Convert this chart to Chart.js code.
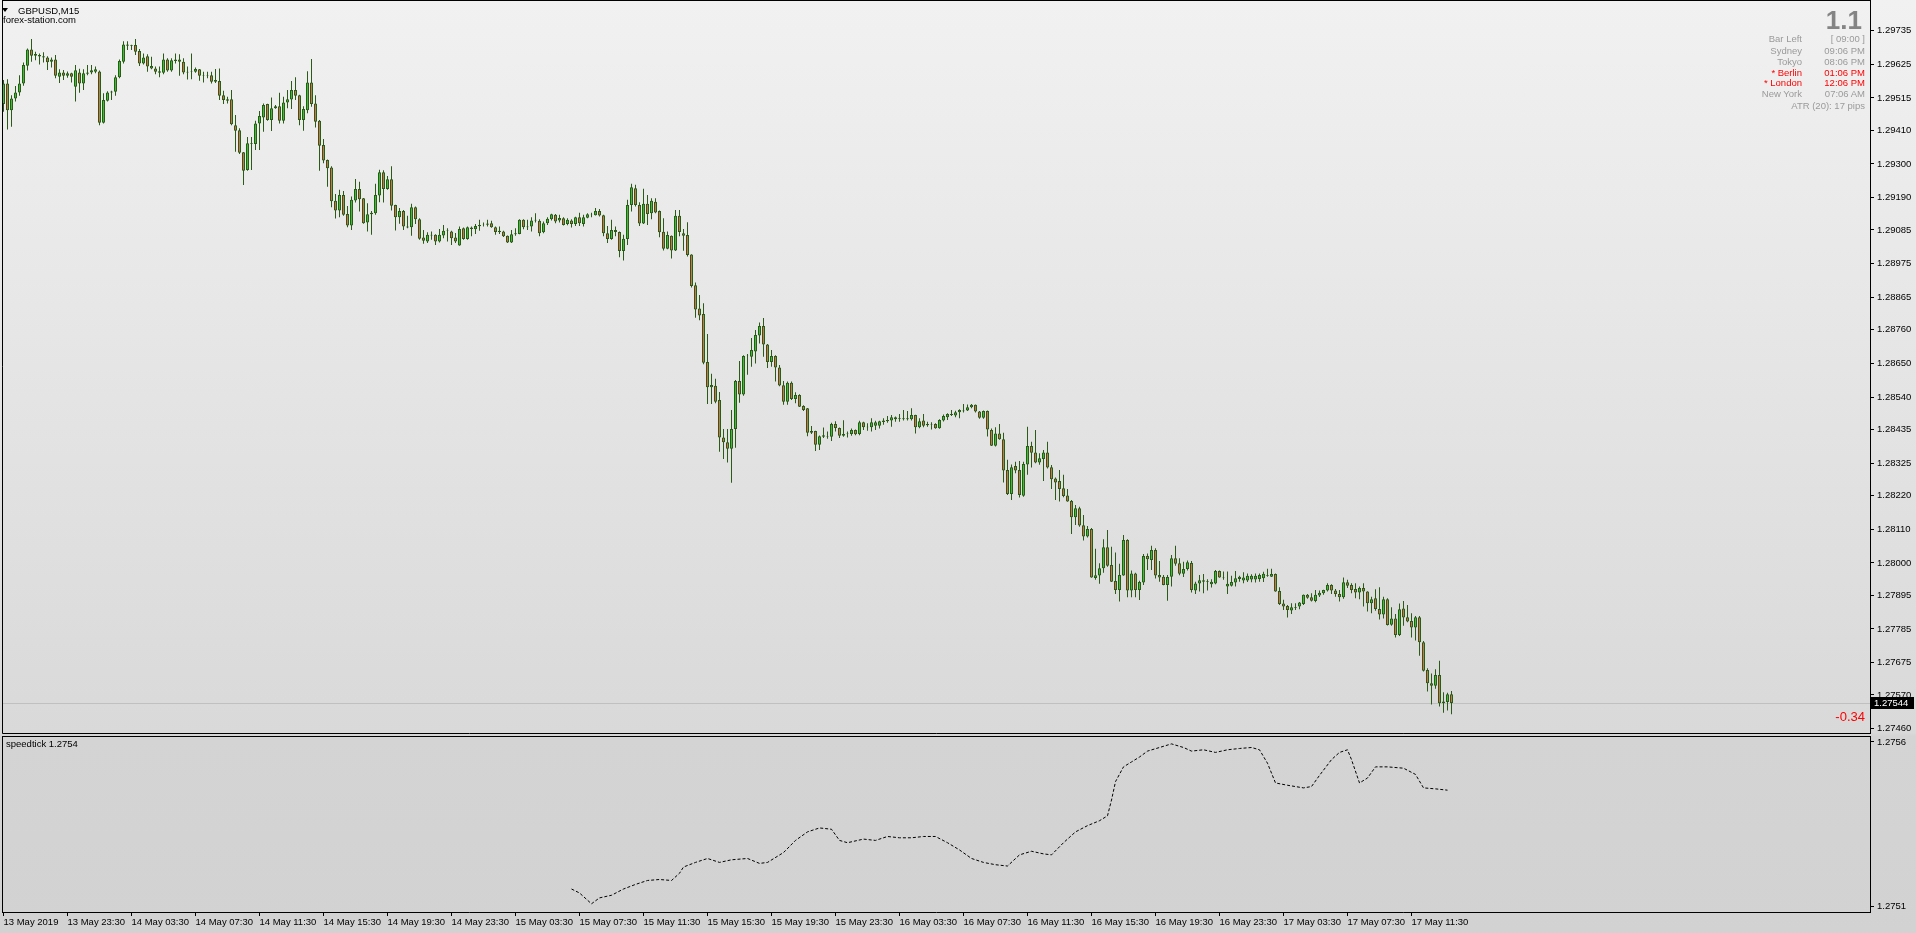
<!DOCTYPE html>
<html lang="en">
<head>
<meta charset="UTF-8" />
<title>GBPUSD,M15</title>
<script src="https://cdn.jsdelivr.net/npm/chart.js"></script>
<style>
  html, body { margin: 0; padding: 0; }
  body {
    width: 1916px; height: 933px; overflow: hidden; position: relative;
    background: linear-gradient(to bottom, #f1f1f1 0px, #d9d9d9 733px, #d4d4d4 736px, #d2d2d2 933px);
    font-family: "Liberation Sans", Arial, sans-serif; font-size: 9.5px; color: #000;
  }
  canvas { position: absolute; left: 0; }
  .t { position: absolute; white-space: nowrap; line-height: 11px; }
  .r { text-align: right; }
  .gray { color: #9a9a9a; }
  .red { color: #ff0000; }
  #tri { position: absolute; left: 2px; top: 8px; width: 0; height: 0;
    border-left: 3.5px solid transparent; border-right: 3.5px solid transparent; border-top: 4px solid #000; }
</style>
</head>
<body>
<canvas id="mainChart" width="1916" height="734" style="top:0"></canvas>
<canvas id="speedChart" width="1916" height="199" style="top:734px"></canvas>

<div id="tri"></div>
<div class="t" style="left:18px; top:4.5px">GBPUSD,M15</div>
<div class="t" style="left:3px; top:13.5px">forex-station.com</div>

<div class="t r gray" style="right:54px; top:6px; font-size:26px; line-height:28px; font-weight:bold; color:#848484">1.1</div>
<div id="info"></div>

<div class="t r red" style="right:51px; top:709px; font-size:13px; line-height:15px">-0.34</div>
<div class="t" style="left:6px; top:737.5px">speedtick 1.2754</div>

<script>
// candles, one per M15 bar, bar 0 = 13 May 19:30
const open = [
1.29495,1.29562,1.29475,1.29513,1.29533,1.29562,1.29620,1.29673,1.29652,1.29655,
1.29651,1.29647,1.29633,1.29640,1.29584,1.29598,1.29587,1.29595,1.29551,1.29598,
1.29562,1.29594,1.29598,1.29600,1.29601,1.29434,1.29506,1.29533,1.29535,1.29582,
1.29633,1.29689,1.29685,1.29687,1.29668,1.29627,1.29651,1.29611,1.29611,1.29597,
1.29597,1.29640,1.29604,1.29635,1.29640,1.29633,1.29598,1.29600,1.29600,1.29608,
1.29587,1.29589,1.29589,1.29568,1.29570,1.29524,1.29506,1.29511,1.29426,1.29410,
1.29338,1.29280,1.29367,1.29365,1.29432,1.29451,1.29495,1.29443,1.29481,1.29488,
1.29441,1.29500,1.29510,1.29541,1.29524,1.29443,1.29475,1.29565,1.29497,1.29441,
1.29362,1.29313,1.29288,1.29180,1.29148,1.29199,1.29137,1.29099,1.29181,1.29218,
1.29188,1.29109,1.29136,1.29139,1.29197,1.29273,1.29218,1.29250,1.29166,1.29126,
1.29147,1.29096,1.29094,1.29159,1.29120,1.29060,1.29047,1.29069,1.29069,1.29047,
1.29067,1.29082,1.29080,1.29060,1.29034,1.29090,1.29055,1.29093,1.29087,1.29097,
1.29101,1.29102,1.29107,1.29094,1.29078,1.29080,1.29066,1.29044,1.29071,1.29072,
1.29118,1.29094,1.29096,1.29116,1.29115,1.29077,1.29107,1.29120,1.29134,1.29116,
1.29123,1.29104,1.29116,1.29104,1.29126,1.29104,1.29125,1.29136,1.29133,1.29147,
1.29133,1.29074,1.29055,1.29085,1.29078,1.29016,1.29055,1.29166,1.29221,1.29166,
1.29106,1.29170,1.29139,1.29177,1.29147,1.29079,1.29024,1.29066,1.29018,1.29131,
1.29074,1.29068,1.29005,1.28905,1.28829,1.28811,1.28655,1.28572,1.28577,1.28531,
1.28409,1.28393,1.28372,1.28436,1.28593,1.28549,1.28674,1.28672,1.28689,1.28741,
1.28772,1.28712,1.28655,1.28674,1.28637,1.28579,1.28525,1.28587,1.28534,1.28547,
1.28511,1.28504,1.28424,1.28430,1.28385,1.28411,1.28413,1.28411,1.28453,1.28440,
1.28414,1.28420,1.28420,1.28433,1.28420,1.28458,1.28442,1.28442,1.28447,1.28447,
1.28459,1.28462,1.28464,1.28475,1.28469,1.28471,1.28468,1.28468,1.28482,1.28442,
1.28464,1.28449,1.28452,1.28453,1.28439,1.28464,1.28475,1.28485,1.28480,1.28491,
1.28494,1.28497,1.28507,1.28515,1.28493,1.28473,1.28495,1.28433,1.28382,1.28422,
1.28403,1.28303,1.28225,1.28316,1.28303,1.28219,1.28321,1.28381,1.28360,1.28327,
1.28339,1.28360,1.28312,1.28275,1.28267,1.28243,1.28220,1.28202,1.28149,1.28178,
1.28123,1.28086,1.28111,1.27951,1.27959,1.27983,1.28051,1.27993,1.27941,1.27912,
1.27959,1.28075,1.27910,1.27966,1.27912,1.27936,1.28023,1.28010,1.28042,1.27961,
1.27955,1.27928,1.27955,1.28015,1.27999,1.27965,1.27980,1.28000,1.27910,1.27933,
1.27944,1.27939,1.27931,1.27933,1.27974,1.27953,1.27923,1.27926,1.27936,1.27948,
1.27943,1.27943,1.27946,1.27946,1.27948,1.27950,1.27961,1.27955,1.27964,1.27909,
1.27868,1.27860,1.27845,1.27856,1.27858,1.27866,1.27896,1.27888,1.27876,1.27894,
1.27901,1.27910,1.27928,1.27910,1.27899,1.27888,1.27937,1.27928,1.27915,1.27904,
1.27918,1.27907,1.27869,1.27885,1.27850,1.27832,1.27882,1.27799,1.27819,1.27765,
1.27852,1.27823,1.27811,1.27790,1.27823,1.27742,1.27651,1.27608,1.27600,1.27635,
1.27543,1.27547,1.27572];

const high = [
1.29573,1.29576,1.29524,1.29554,1.29589,1.29630,1.29676,1.29707,1.29665,1.29660,
1.29664,1.29651,1.29647,1.29655,1.29608,1.29606,1.29601,1.29597,1.29622,1.29610,
1.29608,1.29622,1.29622,1.29617,1.29604,1.29530,1.29537,1.29538,1.29589,1.29640,
1.29700,1.29700,1.29688,1.29707,1.29674,1.29660,1.29657,1.29649,1.29617,1.29617,
1.29660,1.29644,1.29644,1.29660,1.29657,1.29644,1.29617,1.29660,1.29614,1.29609,
1.29600,1.29600,1.29600,1.29609,1.29611,1.29538,1.29519,1.29541,1.29459,1.29416,
1.29339,1.29388,1.29388,1.29441,1.29472,1.29497,1.29496,1.29516,1.29492,1.29532,
1.29519,1.29541,1.29570,1.29582,1.29525,1.29488,1.29602,1.29642,1.29524,1.29443,
1.29381,1.29314,1.29292,1.29202,1.29216,1.29212,1.29163,1.29194,1.29251,1.29242,
1.29189,1.29172,1.29147,1.29235,1.29281,1.29279,1.29261,1.29292,1.29167,1.29156,
1.29150,1.29131,1.29170,1.29161,1.29123,1.29085,1.29077,1.29080,1.29071,1.29088,
1.29101,1.29090,1.29082,1.29075,1.29096,1.29093,1.29096,1.29096,1.29104,1.29118,
1.29109,1.29118,1.29115,1.29096,1.29096,1.29082,1.29067,1.29085,1.29090,1.29120,
1.29120,1.29118,1.29126,1.29139,1.29120,1.29112,1.29126,1.29138,1.29137,1.29134,
1.29126,1.29123,1.29120,1.29128,1.29141,1.29134,1.29139,1.29141,1.29156,1.29153,
1.29134,1.29098,1.29118,1.29096,1.29080,1.29069,1.29183,1.29235,1.29232,1.29175,
1.29219,1.29199,1.29188,1.29188,1.29148,1.29123,1.29080,1.29067,1.29150,1.29150,
1.29088,1.29110,1.29006,1.28914,1.28873,1.28846,1.28746,1.28616,1.28600,1.28557,
1.28436,1.28436,1.28498,1.28596,1.28658,1.28677,1.28681,1.28733,1.28759,1.28783,
1.28798,1.28713,1.28694,1.28677,1.28645,1.28593,1.28591,1.28591,1.28556,1.28550,
1.28514,1.28505,1.28446,1.28431,1.28415,1.28441,1.28428,1.28457,1.28462,1.28441,
1.28465,1.28428,1.28438,1.28435,1.28463,1.28460,1.28455,1.28471,1.28463,1.28463,
1.28471,1.28479,1.28482,1.28477,1.28485,1.28498,1.28495,1.28504,1.28483,1.28471,
1.28485,1.28460,1.28458,1.28455,1.28468,1.28484,1.28488,1.28498,1.28496,1.28501,
1.28518,1.28516,1.28518,1.28516,1.28495,1.28497,1.28497,1.28438,1.28442,1.28453,
1.28424,1.28336,1.28321,1.28330,1.28332,1.28330,1.28444,1.28395,1.28433,1.28357,
1.28368,1.28395,1.28319,1.28278,1.28303,1.28287,1.28241,1.28205,1.28189,1.28183,
1.28156,1.28120,1.28114,1.28046,1.27999,1.28077,1.28107,1.28053,1.28034,1.27997,
1.28091,1.28077,1.27975,1.27968,1.27942,1.28029,1.28031,1.28056,1.28048,1.28006,
1.27961,1.27961,1.28026,1.28056,1.28015,1.28004,1.28008,1.28006,1.27939,1.27961,
1.27964,1.27947,1.27947,1.27977,1.27975,1.27972,1.27972,1.27958,1.27974,1.27958,
1.27970,1.27966,1.27963,1.27966,1.27966,1.27971,1.27981,1.27981,1.27966,1.27921,
1.27880,1.27863,1.27869,1.27869,1.27873,1.27897,1.27899,1.27901,1.27912,1.27910,
1.27913,1.27934,1.27931,1.27915,1.27912,1.27953,1.27945,1.27934,1.27934,1.27923,
1.27934,1.27908,1.27890,1.27914,1.27921,1.27890,1.27885,1.27856,1.27834,1.27868,
1.27876,1.27863,1.27836,1.27827,1.27827,1.27746,1.27657,1.27640,1.27654,1.27681,
1.27579,1.27577,1.27583];

const low = [
1.29470,1.29412,1.29421,1.29503,1.29522,1.29555,1.29604,1.29633,1.29638,1.29624,
1.29630,1.29606,1.29614,1.29579,1.29564,1.29573,1.29581,1.29565,1.29503,1.29532,
1.29541,1.29589,1.29592,1.29595,1.29426,1.29432,1.29503,1.29508,1.29522,1.29579,
1.29627,1.29671,1.29671,1.29655,1.29619,1.29624,1.29600,1.29608,1.29592,1.29582,
1.29592,1.29600,1.29600,1.29627,1.29587,1.29592,1.29575,1.29576,1.29597,1.29571,
1.29565,1.29579,1.29562,1.29564,1.29508,1.29495,1.29497,1.29426,1.29340,1.29332,
1.29231,1.29278,1.29280,1.29345,1.29345,1.29405,1.29441,1.29407,1.29480,1.29432,
1.29432,1.29481,1.29479,1.29508,1.29426,1.29408,1.29465,1.29486,1.29419,1.29278,
1.29302,1.29226,1.29159,1.29122,1.29126,1.29131,1.29094,1.29085,1.29174,1.29145,
1.29105,1.29080,1.29069,1.29134,1.29175,1.29174,1.29216,1.29148,1.29083,1.29105,
1.29085,1.29090,1.29066,1.29104,1.29053,1.29040,1.29042,1.29053,1.29036,1.29044,
1.29058,1.29047,1.29036,1.29042,1.29033,1.29053,1.29053,1.29064,1.29072,1.29082,
1.29096,1.29096,1.29092,1.29069,1.29072,1.29062,1.29042,1.29042,1.29066,1.29071,
1.29087,1.29085,1.29080,1.29109,1.29064,1.29074,1.29101,1.29116,1.29107,1.29109,
1.29099,1.29100,1.29093,1.29098,1.29098,1.29096,1.29123,1.29126,1.29132,1.29129,
1.29064,1.29042,1.29053,1.29064,1.28996,1.28985,1.29036,1.29145,1.29161,1.29098,
1.29104,1.29101,1.29120,1.29139,1.29061,1.29018,1.29022,1.28992,1.29016,1.29064,
1.29017,1.28998,1.28897,1.28799,1.28791,1.28647,1.28518,1.28518,1.28520,1.28362,
1.28339,1.28327,1.28261,1.28375,1.28522,1.28545,1.28613,1.28639,1.28650,1.28715,
1.28672,1.28635,1.28639,1.28591,1.28576,1.28515,1.28515,1.28531,1.28520,1.28508,
1.28495,1.28413,1.28420,1.28365,1.28368,1.28407,1.28405,1.28397,1.28428,1.28407,
1.28411,1.28409,1.28414,1.28416,1.28416,1.28433,1.28431,1.28428,1.28433,1.28438,
1.28450,1.28457,1.28444,1.28460,1.28460,1.28464,1.28464,1.28464,1.28422,1.28439,
1.28442,1.28444,1.28435,1.28437,1.28437,1.28461,1.28466,1.28479,1.28475,1.28471,
1.28490,1.28495,1.28504,1.28490,1.28470,1.28470,1.28412,1.28381,1.28379,1.28401,
1.28262,1.28221,1.28205,1.28292,1.28213,1.28216,1.28287,1.28311,1.28325,1.28320,
1.28267,1.28308,1.28241,1.28205,1.28200,1.28214,1.28199,1.28094,1.28124,1.28118,
1.28073,1.28083,1.27952,1.27945,1.27932,1.27968,1.27988,1.27938,1.27899,1.27874,
1.27958,1.27888,1.27888,1.27888,1.27879,1.27928,1.27977,1.27977,1.27949,1.27939,
1.27927,1.27877,1.27923,1.27991,1.27960,1.27954,1.27975,1.27904,1.27899,1.27907,
1.27901,1.27910,1.27920,1.27931,1.27952,1.27945,1.27899,1.27923,1.27923,1.27939,
1.27934,1.27938,1.27937,1.27936,1.27939,1.27938,1.27955,1.27954,1.27906,1.27863,
1.27847,1.27822,1.27834,1.27847,1.27849,1.27863,1.27883,1.27874,1.27872,1.27889,
1.27896,1.27907,1.27899,1.27890,1.27874,1.27883,1.27918,1.27901,1.27885,1.27882,
1.27858,1.27842,1.27836,1.27844,1.27816,1.27819,1.27796,1.27795,1.27757,1.27762,
1.27795,1.27807,1.27757,1.27747,1.27698,1.27646,1.27581,1.27539,1.27590,1.27532,
1.27512,1.27519,1.27507];

const close = [
1.29562,1.29475,1.29513,1.29533,1.29562,1.29622,1.29673,1.29652,1.29658,1.29650,
1.29647,1.29631,1.29640,1.29587,1.29598,1.29587,1.29595,1.29584,1.29605,1.29562,
1.29595,1.29598,1.29605,1.29608,1.29434,1.29508,1.29533,1.29536,1.29582,1.29635,
1.29689,1.29685,1.29687,1.29665,1.29627,1.29647,1.29617,1.29619,1.29600,1.29602,
1.29640,1.29604,1.29638,1.29640,1.29633,1.29598,1.29600,1.29602,1.29609,1.29587,
1.29589,1.29587,1.29568,1.29573,1.29522,1.29508,1.29511,1.29429,1.29408,1.29336,
1.29278,1.29367,1.29365,1.29432,1.29456,1.29492,1.29443,1.29481,1.29488,1.29441,
1.29500,1.29511,1.29541,1.29522,1.29443,1.29479,1.29565,1.29495,1.29437,1.29359,
1.29311,1.29286,1.29178,1.29148,1.29199,1.29134,1.29099,1.29183,1.29218,1.29185,
1.29107,1.29136,1.29141,1.29199,1.29273,1.29218,1.29250,1.29164,1.29126,1.29147,
1.29096,1.29093,1.29159,1.29120,1.29056,1.29050,1.29069,1.29067,1.29047,1.29069,
1.29082,1.29084,1.29058,1.29047,1.29088,1.29055,1.29094,1.29088,1.29098,1.29101,
1.29102,1.29106,1.29094,1.29078,1.29082,1.29064,1.29044,1.29071,1.29074,1.29118,
1.29094,1.29096,1.29116,1.29118,1.29074,1.29107,1.29121,1.29136,1.29112,1.29124,
1.29101,1.29118,1.29104,1.29126,1.29107,1.29126,1.29136,1.29137,1.29147,1.29132,
1.29074,1.29055,1.29085,1.29078,1.29016,1.29056,1.29166,1.29224,1.29166,1.29106,
1.29170,1.29137,1.29180,1.29142,1.29077,1.29024,1.29068,1.29018,1.29131,1.29078,
1.29066,1.29003,1.28902,1.28826,1.28806,1.28652,1.28572,1.28580,1.28525,1.28409,
1.28393,1.28372,1.28436,1.28593,1.28549,1.28674,1.28675,1.28694,1.28743,1.28772,
1.28712,1.28655,1.28674,1.28637,1.28578,1.28525,1.28587,1.28534,1.28547,1.28509,
1.28498,1.28424,1.28430,1.28385,1.28413,1.28416,1.28411,1.28453,1.28440,1.28414,
1.28420,1.28422,1.28433,1.28419,1.28458,1.28442,1.28444,1.28458,1.28458,1.28462,
1.28464,1.28466,1.28475,1.28468,1.28471,1.28468,1.28471,1.28482,1.28442,1.28462,
1.28447,1.28453,1.28450,1.28439,1.28466,1.28479,1.28485,1.28482,1.28491,1.28498,
1.28497,1.28507,1.28515,1.28493,1.28473,1.28495,1.28435,1.28382,1.28422,1.28403,
1.28301,1.28225,1.28312,1.28301,1.28221,1.28322,1.28381,1.28359,1.28327,1.28341,
1.28360,1.28311,1.28273,1.28262,1.28241,1.28218,1.28200,1.28149,1.28178,1.28122,
1.28086,1.28111,1.27953,1.27960,1.27983,1.28051,1.27991,1.27939,1.27912,1.27961,
1.28075,1.27910,1.27966,1.27912,1.27938,1.28023,1.28012,1.28042,1.27959,1.27953,
1.27928,1.27954,1.28015,1.27997,1.27965,1.27980,1.28002,1.27912,1.27933,1.27944,
1.27939,1.27941,1.27939,1.27974,1.27953,1.27951,1.27932,1.27938,1.27950,1.27955,
1.27953,1.27958,1.27958,1.27958,1.27961,1.27965,1.27958,1.27964,1.27907,1.27866,
1.27858,1.27847,1.27856,1.27853,1.27871,1.27896,1.27887,1.27877,1.27896,1.27903,
1.27912,1.27928,1.27910,1.27899,1.27888,1.27937,1.27926,1.27912,1.27904,1.27918,
1.27907,1.27869,1.27882,1.27850,1.27832,1.27882,1.27798,1.27819,1.27765,1.27849,
1.27822,1.27809,1.27790,1.27823,1.27742,1.27649,1.27608,1.27600,1.27635,1.27543,
1.27549,1.27572,1.27544];

// speedtick line (bar index, value)
const speedBars = [142,144,146,147,149,152,155,158,161,164,167,169,170,173,176,179,182,186,189,191,
  195,198,201,204,207,209,211,215,218,221,224,227,230,233,236,239,242,245,248,251,
  254,257,260,262,265,268,271,274,276,277,278,280,282,284,286,289,292,295,297,300,
  303,306,309,312,314,316,318,321,325,327,329,332,334,336,337,339,341,343,346,350,
  353,355,358,361];
const speedValues = [1.275152,1.275140,1.275118,1.275107,1.275125,1.275133,1.275152,1.275166,1.275178,1.275181,
  1.275178,1.275200,1.275219,1.275233,1.275245,1.275233,1.275241,1.275245,1.275230,1.275233,
  1.275263,1.275300,1.275326,1.275338,1.275334,1.275300,1.275293,1.275304,1.275300,1.275312,
  1.275308,1.275308,1.275312,1.275312,1.275293,1.275271,1.275245,1.275233,1.275226,1.275222,
  1.275256,1.275267,1.275259,1.275256,1.275293,1.275326,1.275345,1.275360,1.275375,1.275423,
  1.275479,1.275524,1.275539,1.275554,1.275572,1.275583,1.275594,1.275583,1.275572,1.275576,
  1.275568,1.275576,1.275580,1.275583,1.275576,1.275535,1.275475,1.275468,1.275460,1.275464,
  1.275498,1.275546,1.275568,1.275576,1.275546,1.275475,1.275490,1.275524,1.275524,1.275520,
  1.275501,1.275460,1.275457,1.275453];

const priceTicks = [1.29735,1.29625,1.29515,1.29410,1.29300,1.29190,1.29085,1.28975,1.28865,1.28760,
  1.28650,1.28540,1.28435,1.28325,1.28220,1.28110,1.28000,1.27895,1.27785,1.27675,1.27570,1.27460];
const speedTicks = [1.2756, 1.2751];
const timeTickBars = [0,16,32,48,64,80,96,112,128,144,160,176,192,208,224,240,256,272,288,304,320,336,352];
const timeTickLabels = ["13 May 2019","13 May 23:30","14 May 03:30","14 May 07:30","14 May 11:30","14 May 15:30",
  "14 May 19:30","14 May 23:30","15 May 03:30","15 May 07:30","15 May 11:30","15 May 15:30","15 May 19:30",
  "15 May 23:30","16 May 03:30","16 May 07:30","16 May 11:30","16 May 15:30","16 May 19:30","16 May 23:30",
  "17 May 03:30","17 May 07:30","17 May 11:30"];

const infoLabels = ["Bar Left","Sydney","Tokyo","* Berlin","* London","New York"];
const infoValues = ["[ 09:00 ]","09:06 PM","08:06 PM","01:06 PM","12:06 PM","07:06 AM"];
const infoRed = [false,false,false,true,true,false];

// info panel top right
const info = document.getElementById("info");
const rowY = [38, 50, 61, 72, 82, 93];
infoLabels.forEach((lab, i) => {
  const cls = infoRed[i] ? "red" : "gray";
  info.innerHTML += `<div class="t r ${cls}" style="right:114px; top:${rowY[i] - 5.5}px">${lab}</div>`;
  info.innerHTML += `<div class="t r ${cls}" style="right:51px; top:${rowY[i] - 5.5}px">${infoValues[i]}</div>`;
});
info.innerHTML += `<div class="t r gray" style="right:51px; top:99.5px">ATR (20): 17 pips</div>`;

const font = { family: "Liberation Sans", size: 9.5 };
const bullFill = "#3cbf36";
const bearFill = "#cd7549";
const outline = "#2a5c18";
const xMin = -0.375, xMax = 466.625;
const lastClose = close[close.length - 1];

const bodies = open.map((o, i) => ({ x: i, y: [o, close[i]] }));
const wicks = low.map((l, i) => ({ x: i, y: [l, high[i]] }));
const bodyColors = open.map((o, i) => (close[i] >= o ? bullFill : bearFill));

// frame + close line + last price box
const mainDeco = {
  id: "mainDeco",
  beforeDatasetsDraw(chart) {
    const { ctx, chartArea } = chart;
    const y = Math.round(chart.scales.y.getPixelForValue(lastClose)) + 0.5;
    ctx.save();
    ctx.strokeStyle = "#c0c0c0";
    ctx.lineWidth = 1;
    ctx.beginPath();
    ctx.moveTo(chartArea.left, y);
    ctx.lineTo(chartArea.right, y);
    ctx.stroke();
    ctx.restore();
  },
  afterDraw(chart) {
    const { ctx, chartArea } = chart;
    ctx.save();
    ctx.strokeStyle = "#000";
    ctx.lineWidth = 1;
    ctx.beginPath();
    ctx.moveTo(chartArea.left + 0.5, 0);
    ctx.lineTo(chartArea.left + 0.5, chartArea.bottom + 0.5);
    ctx.lineTo(chartArea.right, chartArea.bottom + 0.5);
    ctx.moveTo(chartArea.left, 0.5);
    ctx.lineTo(chartArea.right, 0.5);
    ctx.stroke();
    const y = Math.round(chart.scales.y.getPixelForValue(lastClose));
    ctx.fillStyle = "#000";
    ctx.fillRect(chartArea.right + 1, y - 6, 43, 12);
    ctx.fillStyle = "#fff";
    ctx.font = "9.5px 'Liberation Sans'";
    ctx.textBaseline = "middle";
    ctx.fillText(lastClose.toFixed(5), chartArea.right + 4, y + 0.5);
    ctx.restore();
  }
};

const speedDeco = {
  id: "speedDeco",
  afterDraw(chart) {
    const { ctx, chartArea } = chart;
    ctx.save();
    ctx.strokeStyle = "#000";
    ctx.lineWidth = 1;
    ctx.beginPath();
    ctx.moveTo(chartArea.left + 0.5, chartArea.top);
    ctx.lineTo(chartArea.left + 0.5, chartArea.bottom);
    ctx.moveTo(chartArea.left, chartArea.top + 0.5);
    ctx.lineTo(chartArea.right, chartArea.top + 0.5);
    ctx.stroke();
    ctx.restore();
  }
};

function fixWidth(s) { s.width = 46; s.paddingTop = 0; s.paddingBottom = 0; }

new Chart(document.getElementById("mainChart"), {
  type: "bar",
  data: {
    datasets: [
      {
        data: bodies, backgroundColor: bodyColors, borderColor: outline, borderWidth: 1,
        borderSkipped: false, barThickness: 3, grouped: false, inflateAmount: 0
      },
      {
        data: wicks, backgroundColor: outline, borderWidth: 0,
        barThickness: 1, grouped: false, inflateAmount: 0
      }
    ]
  },
  options: {
    responsive: false, animation: false, devicePixelRatio: 1, events: [],
    layout: { padding: { left: 2, top: 0, right: 0, bottom: 1 } },
    plugins: { legend: { display: false }, tooltip: { enabled: false } },
    scales: {
      x: { type: "linear", min: xMin, max: xMax, offset: false, display: false },
      y: {
        position: "right", min: 1.27446, max: 1.29834,
        afterBuildTicks: (s) => { s.ticks = priceTicks.map((v) => ({ value: v })); },
        afterFit: fixWidth,
        grid: { drawOnChartArea: false, tickLength: 4, color: "#000" },
        border: { color: "#000" },
        ticks: { font, color: "#000", padding: 3, callback: (v) => v.toFixed(5) }
      }
    }
  },
  plugins: [mainDeco]
});

new Chart(document.getElementById("speedChart"), {
  type: "line",
  data: {
    datasets: [{
      data: speedBars.map((b, i) => ({ x: b, y: speedValues[i] })),
      borderColor: "#000", borderWidth: 1, borderDash: [3, 2], pointRadius: 0, tension: 0, fill: false
    }]
  },
  options: {
    responsive: false, animation: false, devicePixelRatio: 1, events: [],
    layout: { padding: { left: 2, top: 2, right: 0, bottom: 0 } },
    plugins: { legend: { display: false }, tooltip: { enabled: false } },
    scales: {
      x: {
        type: "linear", min: xMin, max: xMax, offset: false,
        afterBuildTicks: (s) => { s.ticks = timeTickBars.map((v) => ({ value: v })); },
        afterFit: (s) => { s.height = 21; s.paddingLeft = 0; s.paddingRight = 0; },
        grid: { drawOnChartArea: false, tickLength: 4, color: "#000" },
        border: { color: "#000" },
        ticks: {
          font, color: "#000", padding: 1, align: "start", autoSkip: false, maxRotation: 0, minRotation: 0,
          callback: (v, i) => timeTickLabels[i]
        }
      },
      y: {
        position: "right", min: 1.275082, max: 1.275618,
        afterBuildTicks: (s) => { s.ticks = speedTicks.map((v) => ({ value: v })); },
        afterFit: fixWidth,
        grid: { drawOnChartArea: false, tickLength: 4, color: "#000" },
        border: { color: "#000" },
        ticks: { font, color: "#000", padding: 3, callback: (v) => v.toFixed(4) }
      }
    }
  },
  plugins: [speedDeco]
});
</script>
</body>
</html>
